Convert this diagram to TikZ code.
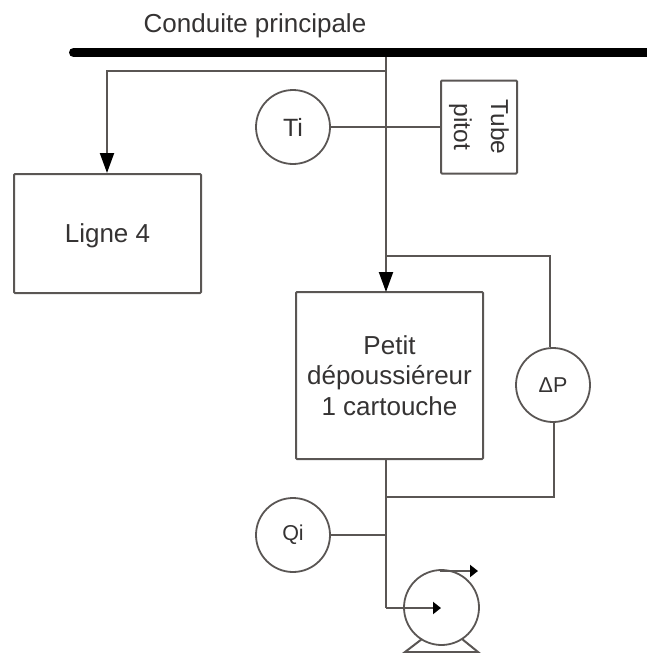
\documentclass[tikz,border=0pt]{standalone}
\usepackage{fontspec}
\setmainfont{Liberation Sans}
\usetikzlibrary{arrows.meta, calc}
\definecolor{pipeline}{HTML}{5A5654}
\definecolor{labeltxt}{HTML}{353333}
\tikzset{
  procbox/.style = {draw=pipeline, line width=2pt, align=center, rounded corners=1pt,
                    font=\fontsize{26}{30.5}\selectfont, inner sep=0pt, text=labeltxt},
  instr/.style   = {circle, draw=pipeline, line width=1.8pt, minimum size=74pt, inner sep=0pt,
                    font=\fontsize{25}{28}\selectfont, text=labeltxt},
  smallinstr/.style = {instr, font=\fontsize{21.5}{25}\selectfont},
  pipe/.style    = {draw=pipeline, line width=2pt},
  flow/.style    = {pipe, -{Triangle[length=20pt, width=14pt, black]}},
  shortflow/.style = {pipe, -{Triangle[length=8pt, width=12pt, black]}},
}
\begin{document}
\begin{tikzpicture}[x=1pt, y=-1pt]
        \useasboundingbox (0,0) rectangle (647,653);
        \node[anchor=base, font=\fontsize{26}{30}\selectfont, text=labeltxt] (titre) at (255,32) {Conduite principale};
        \coordinate (maindeb) at (73.5,52.5);
        \coordinate (mainfin) at (652,52.5);
        % boites
        \node[procbox, minimum width=187pt, minimum height=119pt, text depth=0pt] (ligne) at (107.5,233.5) {Ligne 4};
        \node[procbox, minimum width=187pt, minimum height=167pt] (petit) at (389.5,375.5) {Petit\\dépoussiéreur\\1 cartouche};
        \node[procbox, rotate=-90, minimum width=93pt, minimum height=76pt, font=\fontsize{24.5}{37}\selectfont] (tube) at (479,127) {Tube\\pitot};
        % instruments
        \node[instr] (ti) at (293,127) {Ti};
        \node[smallinstr] (dp) at (553,385) {ΔP};
        \node[smallinstr] (qi) at (293,535) {Qi};
        \node[circle, draw=pipeline, line width=1.8pt, minimum size=75pt, inner sep=0pt] (pompe) at (441.5,607.5) {};
        % points de piquage
        \coordinate (tconduite) at (386,52);
        \coordinate (tligne) at (386,71);
        \coordinate (cligne) at (107,71);
        \coordinate (entree) at (386,292);
        \coordinate (hautdp) at (386,256);
        \coordinate (chautdp) at (550,256);
        \coordinate (sortie) at (386,459);
        \coordinate (basdp) at (386,497);
        \coordinate (cbasdp) at (554,497);
        \coordinate (tqi) at (386,535);
        \coordinate (cpompe) at (386,608);
        \coordinate (centrepompe) at (441,608);
        \coordinate (hautpompe) at (440,571);
        \coordinate (refoul) at (478,571);
        \coordinate (socleg) at (405,652);
        \coordinate (socled) at (478,652);
        \coordinate (pieg) at (422,639);
        \coordinate (pied) at (462,639);
        % conduites
        \draw[flow] (tconduite) -- (entree);
        \draw[flow] (tligne) -- (cligne) -- (ligne.north -| cligne);
        \draw[pipe] (ti) -- (tube);
        \draw[pipe] (hautdp) -- (chautdp) -- (dp.north -| chautdp);
        \draw[pipe] (sortie) -- (cpompe);
        \draw[pipe] (basdp) -- (cbasdp) -- (dp.south -| cbasdp);
        \draw[pipe] (qi) -- (tqi);
        \draw[shortflow] (cpompe) -- (centrepompe);
        \draw[shortflow] (hautpompe) -- (refoul);
        \draw[pipe] (pieg) -- (socleg) -- (socled) -- (pied);
        \draw[line width=9pt, line cap=round, black] (maindeb) -- (mainfin);
    \end{tikzpicture}
\end{document}
